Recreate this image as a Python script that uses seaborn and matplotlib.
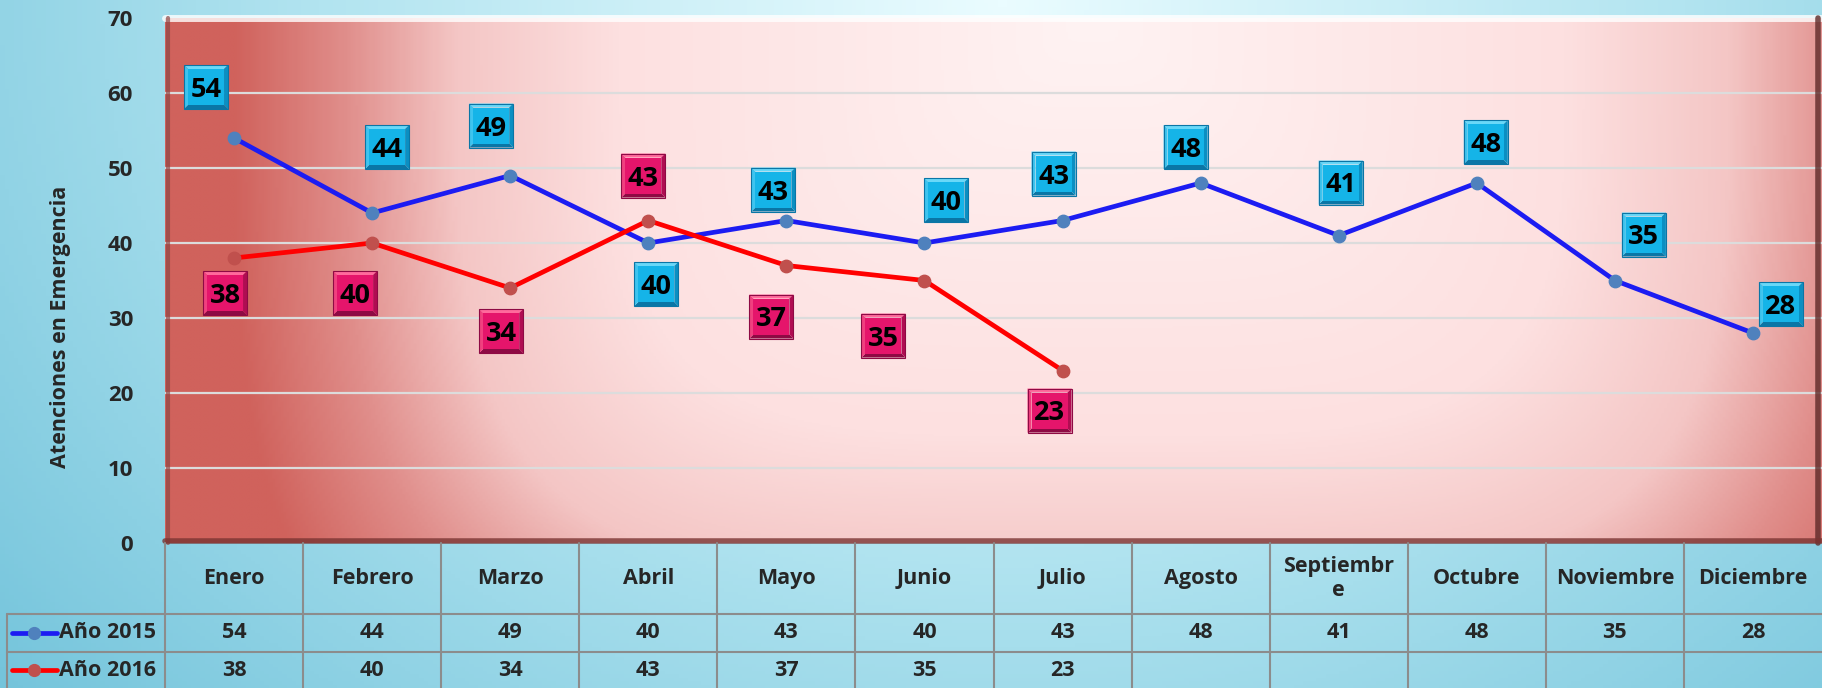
import numpy as np
import pandas as pd
import matplotlib.pyplot as plt
import matplotlib.transforms as mtrans
from matplotlib.patches import Polygon
import seaborn as sns
from matplotlib.colors import LinearSegmentedColormap

# datos
meses = ["Enero", "Febrero", "Marzo", "Abril", "Mayo", "Junio", "Julio",
         "Agosto", "Septiembr\ne", "Octubre", "Noviembre", "Diciembre"]
valores_2015 = [54, 44, 49, 40, 43, 40, 43, 48, 41, 48, 35, 28]
valores_2016 = [38, 40, 34, 43, 37, 35, 23]
series = ["Año 2015", "Año 2016"]
y_label = "Atenciones en Emergencia"

# desplazamiento de las etiquetas (pixeles, y hacia arriba)
off_2015 = [(-28, 51), (15, 66), (-19, 50), (8, -41), (-13, 31), (22, 43), (-9, 47),
            (-15, 36), (2, 53), (9, 41), (29, 46), (28, 29)]
off_2016 = [(-9, -35), (-17, -50), (-9, -43), (-5, 45), (-15, -51), (-41, -55), (-13, -40)]

sns.set_style("white")
plt.rcParams['font.family'] = ['Open Sans', 'DejaVu Sans']

W, H = 1822, 688
fig = plt.figure(figsize=(W / 100, H / 100), dpi=100)

# fondo celeste
bg = fig.add_axes([0, 0, 1, 1], zorder=-10)
yy, xx = np.mgrid[0:1:200j, 0:1:400j]
r = np.sqrt(((xx - 0.55) / 0.75) ** 2 + ((yy - 0.0) / 1.6) ** 2)
cmap_bg = LinearSegmentedColormap.from_list("bg", ["#eafcff", "#b2e4f0", "#70c2da"])
bg.imshow(r, cmap=cmap_bg, aspect="auto", extent=[0, 1, 1, 0], vmin=0, vmax=1)
bg.axis("off")

# eje principal
pl, pr = 165, 1822
ptop, pbot = 18, 543
cw = (pr - pl) / 12
ax = fig.add_axes([pl / W, 1 - pbot / H, (pr - pl) / W, (pbot - ptop) / H])

# fondo degradado rojo
gy, gx = np.mgrid[0:1:300j, 0:1:600j]
rr = (np.abs((gx - 0.56) / 0.52) ** 4 + np.abs((gy - 0.0) / 1.45) ** 4) ** 0.25
cmap_pa = LinearSegmentedColormap.from_list(
    "pa", [(0, "#fff3f3"), (0.55, "#fde0e0"), (0.74, "#f4c6c5"),
           (0.87, "#e08e8b"), (1.0, "#d0625c")])
ax.imshow(np.clip(rr, 0, 1), cmap=cmap_pa, aspect="auto", vmin=0, vmax=1,
          extent=[-0.5, 11.5, 0, 70], zorder=0)

df = pd.DataFrame({
    "mes": list(range(12)) * 2,
    "valor": valores_2015 + valores_2016 + [np.nan] * (12 - len(valores_2016)),
    "serie": [series[0]] * 12 + [series[1]] * 12,
})
sns.lineplot(data=df, x="mes", y="valor", hue="serie", palette=["#1c1cf2", "#ff0000"],
             linewidth=3.4, legend=False, ax=ax, zorder=3)
ax.scatter(range(12), valores_2015, s=80, color="#4f81bd", zorder=4)
ax.scatter(range(len(valores_2016)), valores_2016, s=80, color="#c0504d", zorder=4)

ax.set_xlim(-0.5, 11.5)
ax.set_ylim(0, 70)
ax.set_yticks(range(0, 71, 10))
ax.set_xticks([])
for v in range(10, 70, 10):
    ax.axhline(v, color="#dcdcdc", lw=1.6, zorder=1)
ax.tick_params(axis="y", length=0, pad=23, labelsize=16)
for t in ax.get_yticklabels():
    t.set_fontweight("bold")
ax.set_xlabel("")
ax.set_ylabel(y_label, fontsize=15.5, fontweight="bold")
ax.yaxis.set_label_coords(-0.057, 0.412)
for s in ax.spines.values():
    s.set_visible(False)

# bisel del area
ax.plot([-0.5, 11.5], [70, 70], color="#ffffff", lw=5, alpha=0.8, zorder=2, clip_on=False)
ax.plot([-0.48, -0.48], [0, 70], color="#8e4644", lw=3, alpha=0.7, zorder=2, clip_on=False)
ax.plot([11.47, 11.47], [0, 70], color="#5e2a28", lw=4, alpha=0.8, zorder=2, clip_on=False)
ax.plot([-0.5, 11.5], [0.25, 0.25], color="#7a3432", lw=4, alpha=0.8, zorder=2, clip_on=False)


# etiquetas de datos con caja biselada
def caja(i, v, o, cols):
    face, top, left, right, bot = cols
    tr = mtrans.Affine2D().translate(*o) + mtrans.ScaledTranslation(i, v, ax.transData)
    a, b = 22, 18
    caras = [
        (top, [(-a, a), (a, a), (b, b), (-b, b)]),
        (bot, [(-a, -a), (a, -a), (b, -b), (-b, -b)]),
        (left, [(-a, -a), (-a, a), (-b, b), (-b, -b)]),
        (right, [(a, -a), (a, a), (b, b), (b, -b)]),
        (face, [(-b, -b), (b, -b), (b, b), (-b, b)]),
    ]
    for c, pts in caras:
        ax.add_patch(Polygon(pts, closed=True, fc=c, ec="none", transform=tr,
                             zorder=6, clip_on=False))
    ax.add_patch(Polygon([(-a, -a), (a, -a), (a, a), (-a, a)], closed=True, fc="none",
                         ec=bot, lw=0.8, transform=tr, zorder=6, clip_on=False))
    ax.text(0, 0, str(v), transform=tr, ha="center", va="center_baseline",
            fontsize=19.5, fontweight="bold", color="black", zorder=7)


cols_2015 = ("#15b4e8", "#6ad8f8", "#3ec4ef", "#0b8fc2", "#0a76a6")
cols_2016 = ("#e5156b", "#ff6a9c", "#f0407f", "#b00d52", "#8e0a44")
for i, v in enumerate(valores_2015):
    caja(i, v, off_2015[i], cols_2015)
for i, v in enumerate(valores_2016):
    caja(i, v, off_2016[i], cols_2016)

# tabla de datos
tx0 = 7
tab = fig.add_axes([tx0 / W, 0, (pr - tx0) / W, (H - pbot) / H])
u0 = (tx0 - pl) / cw - 0.5
tab.set_xlim(u0, 11.5)
tab.set_ylim(H - pbot, 0)
tab.axis("off")
gc = "#8c8c8c"
h1, h2, h3 = 71, 109, 145
for i in range(12):
    tab.plot([i - 0.5, i - 0.5], [0, h3], color=gc, lw=1.5, clip_on=False)
tab.plot([u0, u0], [h1, h3], color=gc, lw=1.5, clip_on=False)
for yv in (h1, h2):
    tab.plot([u0, 11.5], [yv, yv], color=gc, lw=1.5, clip_on=False)
fs = 15.5
for i, m in enumerate(meses):
    tab.text(i, h1 / 2, m, ha="center", va="center", fontsize=fs, fontweight="bold",
             linespacing=1.15)
for i, v in enumerate(valores_2015):
    tab.text(i, (h1 + h2) / 2, str(v), ha="center", va="center", fontsize=fs, fontweight="bold")
for i, v in enumerate(valores_2016):
    tab.text(i, (h2 + h3) / 2, str(v), ha="center", va="center", fontsize=fs, fontweight="bold")

px = lambda p: (p - pl) / cw - 0.5
for (yc, lc, mc, nm) in [((h1 + h2) / 2, "#1c1cf2", "#4f81bd", series[0]),
                         ((h2 + h3) / 2, "#ff0000", "#c0504d", series[1])]:
    tab.plot([px(12), px(57)], [yc, yc], color=lc, lw=3.4, clip_on=False)
    tab.plot([px(34)], [yc], "o", color=mc, ms=8.5, clip_on=False)
    tab.text(px(59), yc, nm, ha="left", va="center", fontsize=fs, fontweight="bold")

fig.savefig("out.png", dpi=100)
